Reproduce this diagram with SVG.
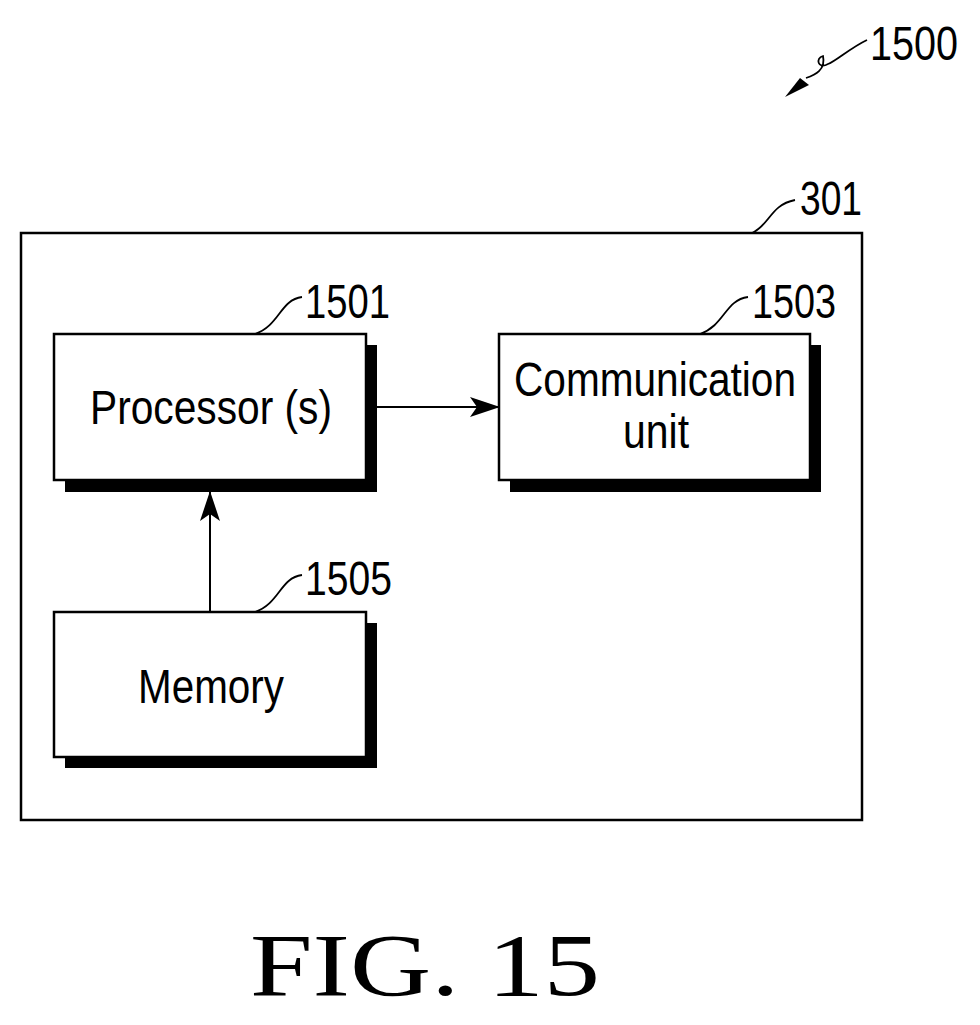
<svg xmlns="http://www.w3.org/2000/svg" width="980" height="1025" viewBox="0 0 980 1025">
<style>
.b{fill:#fff;stroke:#000;stroke-width:2.5}
.s{fill:#000}
.t{font-family:"Liberation Sans",Arial,sans-serif;font-size:48px;fill:#000}
.l{fill:none;stroke:#000;stroke-width:1.8}
</style>
<defs>
<marker id="a2" markerWidth="30" markerHeight="20" refX="29" refY="10" orient="auto" markerUnits="userSpaceOnUse" viewBox="0 0 30 20"><path d="M0,0 L30,10 L0,20 L7,10 Z"/></marker></defs>
<rect width="980" height="1025" fill="#fff"/>
<g id="n1500">
<text class="t" x="870" y="60" textLength="88" lengthAdjust="spacingAndGlyphs">1500</text>
<path class="l" d="M867,40 C850,48 835,62 828,64 C818,70 815,58 823,56 C826,70 815,75 806,78" />
<path d="M785,97 L800,78 L809,85 Z"/>
</g>
<g id="n301">
<rect class="b" x="21" y="233" width="841" height="587"/>
<text class="t" x="800" y="215" textLength="62" lengthAdjust="spacingAndGlyphs">301</text>
<path class="l" d="M752,233 C770,225 770,205 795,200"/>
</g>
<g id="n1501">
<rect class="s" x="65" y="345" width="312" height="147"/>
<rect class="b" x="54" y="334" width="312" height="146"/>
<text class="t" x="90" y="424" textLength="242" lengthAdjust="spacingAndGlyphs">Processor (s)</text>
<text class="t" x="305" y="318" textLength="85" lengthAdjust="spacingAndGlyphs">1501</text>
<path class="l" d="M255,334 C280,325 280,300 302,297"/>
</g>
<g id="n1503">
<rect class="s" x="510" y="345" width="311" height="147"/>
<rect class="b" x="499" y="334" width="311" height="146"/>
<text class="t" x="514" y="396" textLength="282" lengthAdjust="spacingAndGlyphs">Communication</text>
<text class="t" x="623" y="448" textLength="66" lengthAdjust="spacingAndGlyphs">unit</text>
<text class="t" x="752" y="318" textLength="84" lengthAdjust="spacingAndGlyphs">1503</text>
<path class="l" d="M700,334 C725,325 725,300 748,297"/>
</g>
<g id="n1505">
<rect class="s" x="65" y="623" width="312" height="145"/>
<rect class="b" x="54" y="612" width="312" height="145"/>
<text class="t" x="138" y="703" textLength="146" lengthAdjust="spacingAndGlyphs">Memory</text>
<text class="t" x="305" y="595" textLength="87" lengthAdjust="spacingAndGlyphs">1505</text>
<path class="l" d="M255,612 C280,603 280,578 302,575"/>
</g>
<g id="connectors">
<line x1="376" y1="407" x2="499" y2="407" stroke="#000" stroke-width="2" marker-end="url(#a2)"/>
<line x1="210" y1="612" x2="210" y2="492" stroke="#000" stroke-width="2" marker-end="url(#a2)"/>
</g>
<text x="250" y="995" font-family="'Liberation Serif','Times New Roman',serif" font-size="88" textLength="350" lengthAdjust="spacingAndGlyphs">FIG. 15</text>
</svg>
